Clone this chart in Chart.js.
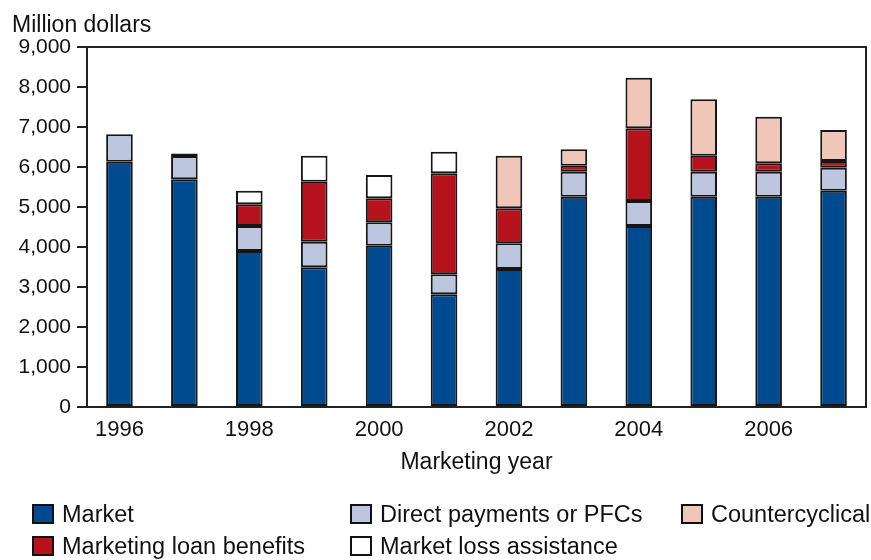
<!DOCTYPE html>
<html>
<head>
<meta charset="utf-8">
<script src="https://cdn.jsdelivr.net/npm/chart.js@4/dist/chart.umd.min.js"></script>
<style>
  body { margin: 0; background: #fff; font-family: 'Liberation Sans', Arial, sans-serif; }
  #wrap { position: relative; width: 871px; height: 560px; }
  #chart-box { position: absolute; left: 0; top: 0; width: 871px; height: 480px; }
  #legend { position: absolute; left: 0; top: 0; width: 871px; height: 560px; pointer-events: none; }
  .item { position: absolute; display: flex; align-items: center; font-size: 23.5px; line-height: 24px; color: #111; white-space: nowrap; }
  .swatch { width: 22px; height: 20px; border: 2px solid #111; margin-right: 8px; box-sizing: border-box; }
</style>
</head>
<body>
<div id="wrap">
  <div id="chart-box"><canvas id="chart" width="871" height="480"></canvas></div>
  <div id="legend"></div>
</div>
<script>
const years = ['1996', '1997', '1998', '1999', '2000', '2001', '2002', '2003', '2004', '2005', '2006', '2007'];
const yTicks = [0, 1000, 2000, 3000, 4000, 5000, 6000, 7000, 8000, 9000];

// million dollars
const market = [6133, 5692, 3900, 3492, 4033, 2817, 3450, 5258, 4525, 5258, 5258, 5408];
const directPayments = [684, 583, 625, 641, 584, 500, 642, 625, 625, 625, 625, 575];
const loanBenefits = [null, 60, 542, 1500, 600, 2525, 875, 150, 1817, 400, 209, 167];
const lossAssistance = [null, null, 341, 650, 583, 541, null, null, null, null, null, null];
const countercyclical = [null, null, null, null, null, null, 1316, 409, 1266, 1409, 1166, 775];

const colors = {
    market: '#004a8f',
    direct: '#bcc6de',
    loan: '#b5121b',
    loss: '#ffffff',
    cc: '#f0c6b8'
};

const font = "'Liberation Sans', Arial, sans-serif";

const datasets = [
    { label: 'Market', data: market, backgroundColor: colors.market },
    { label: 'Direct payments or PFCs', data: directPayments, backgroundColor: colors.direct },
    { label: 'Marketing loan benefits', data: loanBenefits, backgroundColor: colors.loan },
    { label: 'Market loss assistance', data: lossAssistance, backgroundColor: colors.loss },
    { label: 'Countercyclical', data: countercyclical, backgroundColor: colors.cc }
].map(ds => Object.assign(ds, {
    borderColor: '#151515',
    borderWidth: 2,
    borderSkipped: false,
    barPercentage: 0.82,
    categoryPercentage: 0.5
}));

// frame round the plot + the unit label at the top left
const framePlugin = {
    id: 'frame',
    afterDraw(chart) {
        const { ctx, chartArea } = chart;
        ctx.save();
        ctx.strokeStyle = '#222';
        ctx.lineWidth = 2;
        ctx.strokeRect(chartArea.left, chartArea.top, chartArea.right - chartArea.left, chartArea.bottom - chartArea.top);
        ctx.fillStyle = '#111';
        ctx.font = '23px ' + font;
        ctx.textBaseline = 'alphabetic';
        ctx.fillText('Million dollars', 12, 31.5);
        ctx.restore();
    }
};

new Chart(document.getElementById('chart'), {
    type: 'bar',
    data: { labels: years, datasets },
    options: {
        responsive: false,
        animation: false,
        layout: { padding: { top: 47, right: 5, left: 0, bottom: 0 } },
        plugins: {
            legend: { display: false },
            tooltip: { enabled: false }
        },
        scales: {
            x: {
                stacked: true,
                grid: { display: false },
                border: { display: false },
                ticks: {
                    autoSkip: false,
                    maxRotation: 0,
                    color: '#111',
                    font: { family: font, size: 22 },
                    padding: 2,
                    callback: (v, i) => (i % 2 === 0 ? years[i] : '')
                },
                title: {
                    display: true,
                    text: 'Marketing year',
                    color: '#111',
                    font: { family: font, size: 23 },
                    padding: { top: 0 }
                },
                afterFit: s => { s.height = 73; }
            },
            y: {
                stacked: true,
                min: 0,
                max: 9000,
                afterBuildTicks: s => { s.ticks = yTicks.map(v => ({ value: v })); },
                grid: { drawOnChartArea: false, drawTicks: true, tickLength: 10, color: '#222', lineWidth: 2 },
                border: { display: false },
                ticks: {
                    color: '#111',
                    font: { family: font, size: 21 },
                    padding: 6,
                    callback: v => v.toLocaleString('en-US')
                },
                afterFit: s => { s.width = 87; }
            }
        }
    },
    plugins: [framePlugin]
});

// legend laid out in columns like the original
const legendItems = [
    { label: 'Market', color: colors.market, x: 32, y: 514 },
    { label: 'Marketing loan benefits', color: colors.loan, x: 32, y: 546 },
    { label: 'Direct payments or PFCs', color: colors.direct, x: 350, y: 514 },
    { label: 'Market loss assistance', color: colors.loss, x: 350, y: 546 },
    { label: 'Countercyclical', color: colors.cc, x: 681, y: 514 }
];
const legendDiv = document.getElementById('legend');
legendItems.forEach(it => {
    const el = document.createElement('div');
    el.className = 'item';
    el.style.left = it.x + 'px';
    el.style.top = (it.y - 12) + 'px';
    el.innerHTML = `<span class="swatch" style="background:${it.color}"></span>${it.label}`;
    legendDiv.appendChild(el);
});
</script>
</body>
</html>
